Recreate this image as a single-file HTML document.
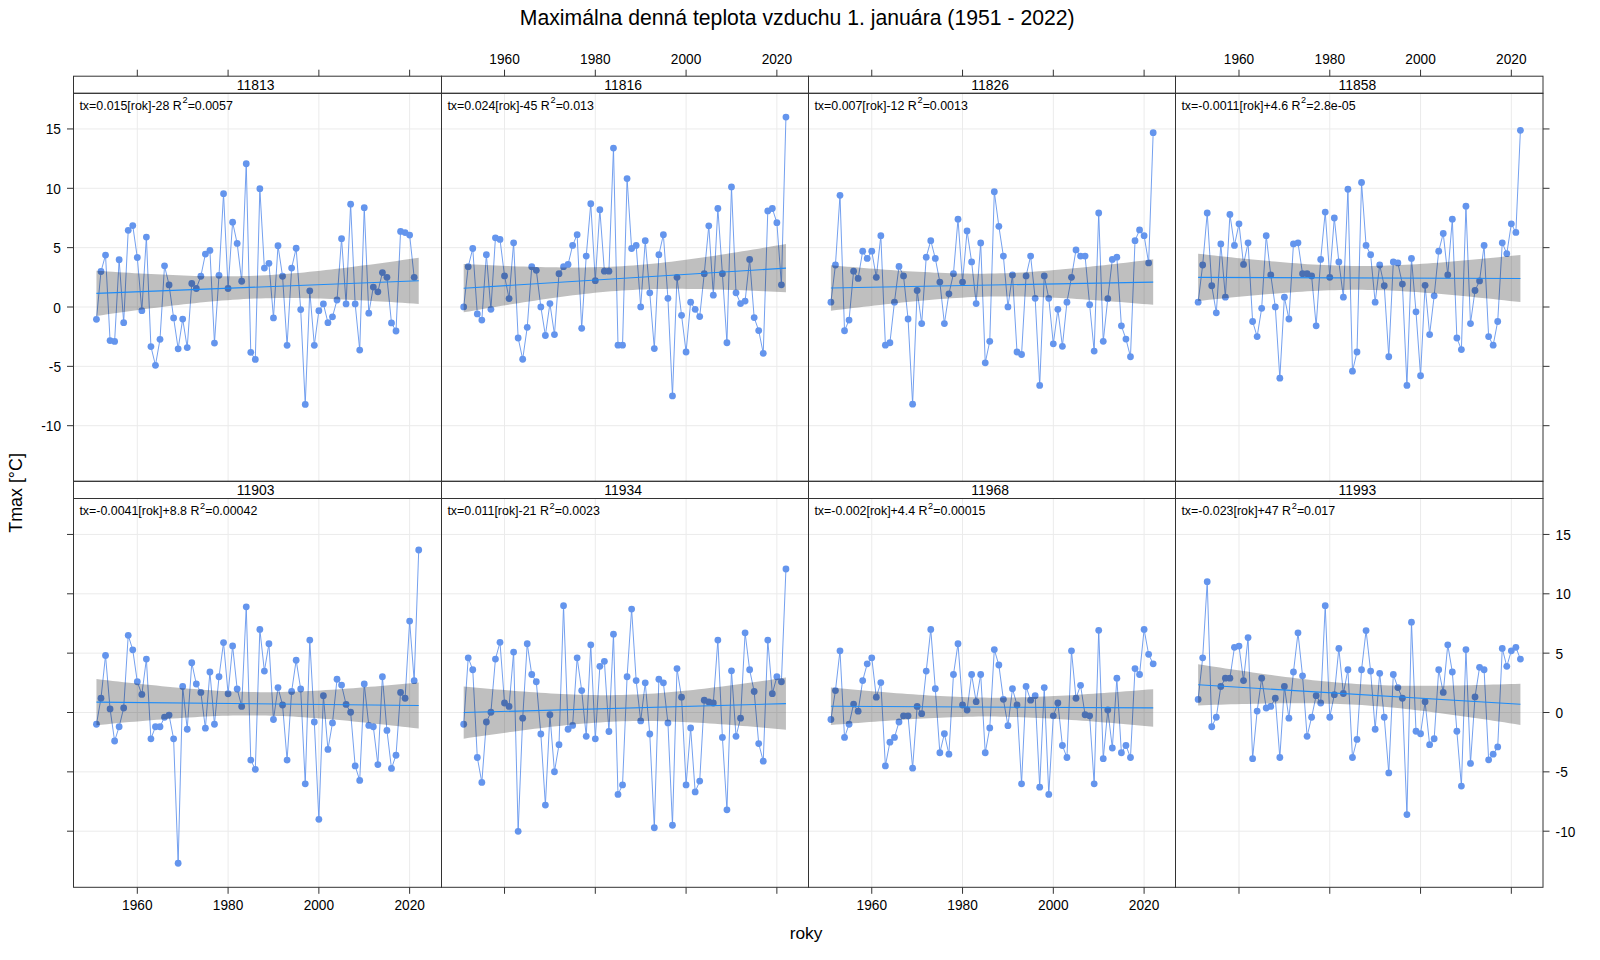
<!DOCTYPE html><html><head><meta charset="utf-8"><style>html,body{margin:0;padding:0;background:#fff;}svg{display:block}</style></head><body>
<svg width="1600" height="960" viewBox="0 0 1600 960" style="font-family:'Liberation Sans',sans-serif">
<rect width="1600" height="960" fill="#fff"/>
<text x="797.2" y="24.6" font-size="21.2" text-anchor="middle" fill="#000">Maximálna denná teplota vzduchu 1. januára (1951 - 2022)</text>
<text x="806" y="938.7" font-size="17.33" text-anchor="middle" fill="#000">roky</text>
<text transform="translate(21.9,492.9) rotate(-90)" font-size="17.85" text-anchor="middle" fill="#000">Tmax [°C]</text>
<clipPath id="cp0"><rect x="73.50" y="93.30" width="368.00" height="388.00"/></clipPath>
<g clip-path="url(#cp0)">
<line x1="137.30" y1="93.30" x2="137.30" y2="481.30" stroke="#ebebeb" stroke-width="1"/>
<line x1="228.08" y1="93.30" x2="228.08" y2="481.30" stroke="#ebebeb" stroke-width="1"/>
<line x1="318.86" y1="93.30" x2="318.86" y2="481.30" stroke="#ebebeb" stroke-width="1"/>
<line x1="409.64" y1="93.30" x2="409.64" y2="481.30" stroke="#ebebeb" stroke-width="1"/>
<line x1="73.50" y1="425.70" x2="441.50" y2="425.70" stroke="#ebebeb" stroke-width="1"/>
<line x1="73.50" y1="366.35" x2="441.50" y2="366.35" stroke="#ebebeb" stroke-width="1"/>
<line x1="73.50" y1="307.00" x2="441.50" y2="307.00" stroke="#ebebeb" stroke-width="1"/>
<line x1="73.50" y1="247.65" x2="441.50" y2="247.65" stroke="#ebebeb" stroke-width="1"/>
<line x1="73.50" y1="188.30" x2="441.50" y2="188.30" stroke="#ebebeb" stroke-width="1"/>
<line x1="73.50" y1="128.95" x2="441.50" y2="128.95" stroke="#ebebeb" stroke-width="1"/>
<polyline fill="none" stroke="#6495ed" stroke-width="0.9" points="96.45,319.34 100.99,271.51 105.53,255.07 110.07,340.59 114.61,341.42 119.14,259.76 123.68,322.67 128.22,230.32 132.76,225.57 137.30,257.50 141.84,310.68 146.38,237.09 150.92,346.53 155.46,365.28 160.00,339.29 164.53,265.81 169.07,284.92 173.61,317.92 178.15,348.78 182.69,319.11 187.23,347.60 191.77,283.50 196.31,288.48 200.85,276.26 205.38,254.06 209.92,250.38 214.46,343.08 219.00,275.31 223.54,193.64 228.08,288.48 232.62,222.13 237.16,243.38 241.70,281.24 246.24,163.73 250.78,352.34 255.31,359.47 259.85,188.66 264.39,268.07 268.93,263.32 273.47,317.92 278.01,245.75 282.55,276.26 287.09,345.34 291.63,268.07 296.16,248.24 300.70,309.61 305.24,404.45 309.78,290.86 314.32,345.34 318.86,310.68 323.40,303.91 327.94,322.67 332.48,316.85 337.02,300.00 341.56,238.63 346.09,303.91 350.63,204.21 355.17,303.91 359.71,350.09 364.25,207.65 368.79,313.17 373.33,287.06 377.87,291.81 382.41,272.58 386.94,277.32 391.48,322.91 396.02,330.98 400.56,231.39 405.10,232.58 409.64,235.07 414.18,277.32"/>
<g fill="#6495ed"><circle cx="96.45" cy="319.34" r="3.4"/><circle cx="100.99" cy="271.51" r="3.4"/><circle cx="105.53" cy="255.07" r="3.4"/><circle cx="110.07" cy="340.59" r="3.4"/><circle cx="114.61" cy="341.42" r="3.4"/><circle cx="119.14" cy="259.76" r="3.4"/><circle cx="123.68" cy="322.67" r="3.4"/><circle cx="128.22" cy="230.32" r="3.4"/><circle cx="132.76" cy="225.57" r="3.4"/><circle cx="137.30" cy="257.50" r="3.4"/><circle cx="141.84" cy="310.68" r="3.4"/><circle cx="146.38" cy="237.09" r="3.4"/><circle cx="150.92" cy="346.53" r="3.4"/><circle cx="155.46" cy="365.28" r="3.4"/><circle cx="160.00" cy="339.29" r="3.4"/><circle cx="164.53" cy="265.81" r="3.4"/><circle cx="169.07" cy="284.92" r="3.4"/><circle cx="173.61" cy="317.92" r="3.4"/><circle cx="178.15" cy="348.78" r="3.4"/><circle cx="182.69" cy="319.11" r="3.4"/><circle cx="187.23" cy="347.60" r="3.4"/><circle cx="191.77" cy="283.50" r="3.4"/><circle cx="196.31" cy="288.48" r="3.4"/><circle cx="200.85" cy="276.26" r="3.4"/><circle cx="205.38" cy="254.06" r="3.4"/><circle cx="209.92" cy="250.38" r="3.4"/><circle cx="214.46" cy="343.08" r="3.4"/><circle cx="219.00" cy="275.31" r="3.4"/><circle cx="223.54" cy="193.64" r="3.4"/><circle cx="228.08" cy="288.48" r="3.4"/><circle cx="232.62" cy="222.13" r="3.4"/><circle cx="237.16" cy="243.38" r="3.4"/><circle cx="241.70" cy="281.24" r="3.4"/><circle cx="246.24" cy="163.73" r="3.4"/><circle cx="250.78" cy="352.34" r="3.4"/><circle cx="255.31" cy="359.47" r="3.4"/><circle cx="259.85" cy="188.66" r="3.4"/><circle cx="264.39" cy="268.07" r="3.4"/><circle cx="268.93" cy="263.32" r="3.4"/><circle cx="273.47" cy="317.92" r="3.4"/><circle cx="278.01" cy="245.75" r="3.4"/><circle cx="282.55" cy="276.26" r="3.4"/><circle cx="287.09" cy="345.34" r="3.4"/><circle cx="291.63" cy="268.07" r="3.4"/><circle cx="296.16" cy="248.24" r="3.4"/><circle cx="300.70" cy="309.61" r="3.4"/><circle cx="305.24" cy="404.45" r="3.4"/><circle cx="309.78" cy="290.86" r="3.4"/><circle cx="314.32" cy="345.34" r="3.4"/><circle cx="318.86" cy="310.68" r="3.4"/><circle cx="323.40" cy="303.91" r="3.4"/><circle cx="327.94" cy="322.67" r="3.4"/><circle cx="332.48" cy="316.85" r="3.4"/><circle cx="337.02" cy="300.00" r="3.4"/><circle cx="341.56" cy="238.63" r="3.4"/><circle cx="346.09" cy="303.91" r="3.4"/><circle cx="350.63" cy="204.21" r="3.4"/><circle cx="355.17" cy="303.91" r="3.4"/><circle cx="359.71" cy="350.09" r="3.4"/><circle cx="364.25" cy="207.65" r="3.4"/><circle cx="368.79" cy="313.17" r="3.4"/><circle cx="373.33" cy="287.06" r="3.4"/><circle cx="377.87" cy="291.81" r="3.4"/><circle cx="382.41" cy="272.58" r="3.4"/><circle cx="386.94" cy="277.32" r="3.4"/><circle cx="391.48" cy="322.91" r="3.4"/><circle cx="396.02" cy="330.98" r="3.4"/><circle cx="400.56" cy="231.39" r="3.4"/><circle cx="405.10" cy="232.58" r="3.4"/><circle cx="409.64" cy="235.07" r="3.4"/><circle cx="414.18" cy="277.32" r="3.4"/></g>
<polygon fill="#000" fill-opacity="0.25" points="96.45,270.73 101.91,271.10 107.37,271.46 112.84,271.81 118.30,272.15 123.76,272.49 129.22,272.83 134.68,273.15 140.15,273.46 145.61,273.77 151.07,274.06 156.53,274.34 162.00,274.61 167.46,274.87 172.92,275.11 178.38,275.33 183.84,275.54 189.31,275.73 194.77,275.89 200.23,276.03 205.69,276.15 211.15,276.24 216.62,276.30 222.08,276.33 227.54,276.33 233.00,276.29 238.47,276.21 243.93,276.10 249.39,275.95 254.85,275.76 260.31,275.54 265.78,275.27 271.24,274.96 276.70,274.62 282.16,274.24 287.63,273.82 293.09,273.37 298.55,272.89 304.01,272.39 309.47,271.85 314.94,271.29 320.40,270.70 325.86,270.09 331.32,269.47 336.79,268.82 342.25,268.16 347.71,267.48 353.17,266.79 358.63,266.09 364.10,265.37 369.56,264.64 375.02,263.91 380.48,263.16 385.94,262.41 391.41,261.64 396.87,260.88 402.33,260.10 407.79,259.32 413.26,258.53 418.72,257.74 418.72,303.91 413.26,303.54 407.79,303.17 402.33,302.82 396.87,302.47 391.41,302.12 385.94,301.78 380.48,301.45 375.02,301.13 369.56,300.82 364.10,300.51 358.63,300.22 353.17,299.94 347.71,299.68 342.25,299.42 336.79,299.18 331.32,298.96 325.86,298.76 320.40,298.58 314.94,298.42 309.47,298.28 304.01,298.17 298.55,298.08 293.09,298.03 287.63,298.00 282.16,298.01 276.70,298.05 271.24,298.13 265.78,298.25 260.31,298.41 254.85,298.60 249.39,298.84 243.93,299.11 238.47,299.43 233.00,299.78 227.54,300.16 222.08,300.58 216.62,301.04 211.15,301.52 205.69,302.04 200.23,302.58 194.77,303.14 189.31,303.73 183.84,304.34 178.38,304.97 172.92,305.62 167.46,306.29 162.00,306.97 156.53,307.66 151.07,308.37 145.61,309.08 140.15,309.81 134.68,310.55 129.22,311.30 123.76,312.05 118.30,312.82 112.84,313.59 107.37,314.36 101.91,315.15 96.45,315.94"/>
<line x1="96.45" y1="293.33" x2="418.72" y2="280.82" stroke="#1e8cf8" stroke-width="1.1"/>
</g>
<text x="79.40" y="109.90" font-size="12.42" fill="#000">tx=0.015[rok]-28 R<tspan dx="0.6" dy="-6.5" font-size="9.2">2</tspan><tspan dx="0.1" dy="6.5">=0.0057</tspan></text>
<rect x="73.50" y="76.20" width="368.00" height="17.10" fill="none" stroke="#333" stroke-width="1"/>
<text x="255.60" y="90.10" font-size="13.9" text-anchor="middle" fill="#000">11813</text>
<rect x="73.50" y="93.30" width="368.00" height="388.00" fill="none" stroke="#333" stroke-width="1"/>
<clipPath id="cp1"><rect x="441.50" y="93.30" width="367.00" height="388.00"/></clipPath>
<g clip-path="url(#cp1)">
<line x1="504.53" y1="93.30" x2="504.53" y2="481.30" stroke="#ebebeb" stroke-width="1"/>
<line x1="595.31" y1="93.30" x2="595.31" y2="481.30" stroke="#ebebeb" stroke-width="1"/>
<line x1="686.09" y1="93.30" x2="686.09" y2="481.30" stroke="#ebebeb" stroke-width="1"/>
<line x1="776.87" y1="93.30" x2="776.87" y2="481.30" stroke="#ebebeb" stroke-width="1"/>
<line x1="441.50" y1="425.70" x2="808.50" y2="425.70" stroke="#ebebeb" stroke-width="1"/>
<line x1="441.50" y1="366.35" x2="808.50" y2="366.35" stroke="#ebebeb" stroke-width="1"/>
<line x1="441.50" y1="307.00" x2="808.50" y2="307.00" stroke="#ebebeb" stroke-width="1"/>
<line x1="441.50" y1="247.65" x2="808.50" y2="247.65" stroke="#ebebeb" stroke-width="1"/>
<line x1="441.50" y1="188.30" x2="808.50" y2="188.30" stroke="#ebebeb" stroke-width="1"/>
<line x1="441.50" y1="128.95" x2="808.50" y2="128.95" stroke="#ebebeb" stroke-width="1"/>
<polyline fill="none" stroke="#6495ed" stroke-width="0.9" points="463.68,306.88 468.22,266.64 472.76,248.48 477.30,313.88 481.84,320.06 486.37,254.65 490.91,309.37 495.45,237.80 499.99,239.46 504.53,275.90 509.07,298.57 513.61,242.78 518.15,337.98 522.69,359.23 527.23,327.30 531.76,266.64 536.30,270.32 540.84,306.88 545.38,335.49 549.92,303.56 554.46,334.54 559.00,273.65 563.54,266.64 568.08,264.39 572.62,245.39 577.15,234.71 581.69,328.37 586.23,256.08 590.77,203.73 595.31,280.65 599.85,209.67 604.39,271.15 608.93,271.15 613.47,148.06 618.00,345.22 622.54,345.22 627.08,178.57 631.62,248.48 636.16,245.39 640.70,306.88 645.24,240.65 649.78,292.87 654.32,348.55 658.86,254.65 663.39,234.71 667.93,298.33 672.47,395.91 677.01,277.32 681.55,315.31 686.09,351.99 690.63,302.13 695.17,309.37 699.71,316.61 704.25,273.65 708.79,225.81 713.32,295.13 717.86,208.48 722.40,273.65 726.94,342.73 731.48,186.88 736.02,292.87 740.56,303.56 745.10,301.06 749.64,259.40 754.17,317.56 758.71,330.62 763.25,353.29 767.79,210.97 772.33,208.48 776.87,222.72 781.41,284.80 785.95,117.08"/>
<g fill="#6495ed"><circle cx="463.68" cy="306.88" r="3.4"/><circle cx="468.22" cy="266.64" r="3.4"/><circle cx="472.76" cy="248.48" r="3.4"/><circle cx="477.30" cy="313.88" r="3.4"/><circle cx="481.84" cy="320.06" r="3.4"/><circle cx="486.37" cy="254.65" r="3.4"/><circle cx="490.91" cy="309.37" r="3.4"/><circle cx="495.45" cy="237.80" r="3.4"/><circle cx="499.99" cy="239.46" r="3.4"/><circle cx="504.53" cy="275.90" r="3.4"/><circle cx="509.07" cy="298.57" r="3.4"/><circle cx="513.61" cy="242.78" r="3.4"/><circle cx="518.15" cy="337.98" r="3.4"/><circle cx="522.69" cy="359.23" r="3.4"/><circle cx="527.23" cy="327.30" r="3.4"/><circle cx="531.76" cy="266.64" r="3.4"/><circle cx="536.30" cy="270.32" r="3.4"/><circle cx="540.84" cy="306.88" r="3.4"/><circle cx="545.38" cy="335.49" r="3.4"/><circle cx="549.92" cy="303.56" r="3.4"/><circle cx="554.46" cy="334.54" r="3.4"/><circle cx="559.00" cy="273.65" r="3.4"/><circle cx="563.54" cy="266.64" r="3.4"/><circle cx="568.08" cy="264.39" r="3.4"/><circle cx="572.62" cy="245.39" r="3.4"/><circle cx="577.15" cy="234.71" r="3.4"/><circle cx="581.69" cy="328.37" r="3.4"/><circle cx="586.23" cy="256.08" r="3.4"/><circle cx="590.77" cy="203.73" r="3.4"/><circle cx="595.31" cy="280.65" r="3.4"/><circle cx="599.85" cy="209.67" r="3.4"/><circle cx="604.39" cy="271.15" r="3.4"/><circle cx="608.93" cy="271.15" r="3.4"/><circle cx="613.47" cy="148.06" r="3.4"/><circle cx="618.00" cy="345.22" r="3.4"/><circle cx="622.54" cy="345.22" r="3.4"/><circle cx="627.08" cy="178.57" r="3.4"/><circle cx="631.62" cy="248.48" r="3.4"/><circle cx="636.16" cy="245.39" r="3.4"/><circle cx="640.70" cy="306.88" r="3.4"/><circle cx="645.24" cy="240.65" r="3.4"/><circle cx="649.78" cy="292.87" r="3.4"/><circle cx="654.32" cy="348.55" r="3.4"/><circle cx="658.86" cy="254.65" r="3.4"/><circle cx="663.39" cy="234.71" r="3.4"/><circle cx="667.93" cy="298.33" r="3.4"/><circle cx="672.47" cy="395.91" r="3.4"/><circle cx="677.01" cy="277.32" r="3.4"/><circle cx="681.55" cy="315.31" r="3.4"/><circle cx="686.09" cy="351.99" r="3.4"/><circle cx="690.63" cy="302.13" r="3.4"/><circle cx="695.17" cy="309.37" r="3.4"/><circle cx="699.71" cy="316.61" r="3.4"/><circle cx="704.25" cy="273.65" r="3.4"/><circle cx="708.79" cy="225.81" r="3.4"/><circle cx="713.32" cy="295.13" r="3.4"/><circle cx="717.86" cy="208.48" r="3.4"/><circle cx="722.40" cy="273.65" r="3.4"/><circle cx="726.94" cy="342.73" r="3.4"/><circle cx="731.48" cy="186.88" r="3.4"/><circle cx="736.02" cy="292.87" r="3.4"/><circle cx="740.56" cy="303.56" r="3.4"/><circle cx="745.10" cy="301.06" r="3.4"/><circle cx="749.64" cy="259.40" r="3.4"/><circle cx="754.17" cy="317.56" r="3.4"/><circle cx="758.71" cy="330.62" r="3.4"/><circle cx="763.25" cy="353.29" r="3.4"/><circle cx="767.79" cy="210.97" r="3.4"/><circle cx="772.33" cy="208.48" r="3.4"/><circle cx="776.87" cy="222.72" r="3.4"/><circle cx="781.41" cy="284.80" r="3.4"/><circle cx="785.95" cy="117.08" r="3.4"/></g>
<polygon fill="#000" fill-opacity="0.25" points="463.68,264.09 469.14,264.35 474.60,264.61 480.07,264.87 485.53,265.11 490.99,265.35 496.45,265.58 501.91,265.81 507.38,266.02 512.84,266.23 518.30,266.42 523.76,266.60 529.23,266.77 534.69,266.92 540.15,267.06 545.61,267.18 551.07,267.29 556.54,267.37 562.00,267.43 567.46,267.47 572.92,267.48 578.38,267.46 583.85,267.42 589.31,267.34 594.77,267.23 600.23,267.09 605.70,266.91 611.16,266.69 616.62,266.43 622.08,266.13 627.54,265.78 633.01,265.40 638.47,264.98 643.93,264.52 649.39,264.02 654.86,263.48 660.32,262.91 665.78,262.30 671.24,261.66 676.70,260.99 682.17,260.30 687.63,259.58 693.09,258.83 698.55,258.07 704.02,257.28 709.48,256.48 714.94,255.66 720.40,254.82 725.86,253.97 731.33,253.11 736.79,252.23 742.25,251.34 747.71,250.45 753.17,249.54 758.64,248.63 764.10,247.71 769.56,246.78 775.02,245.84 780.49,244.90 785.95,243.95 785.95,292.22 780.49,291.95 775.02,291.69 769.56,291.44 764.10,291.19 758.64,290.95 753.17,290.72 747.71,290.50 742.25,290.28 736.79,290.08 731.33,289.89 725.86,289.71 720.40,289.54 714.94,289.38 709.48,289.24 704.02,289.12 698.55,289.02 693.09,288.94 687.63,288.88 682.17,288.84 676.70,288.83 671.24,288.84 665.78,288.89 660.32,288.96 654.86,289.07 649.39,289.22 643.93,289.40 638.47,289.62 633.01,289.88 627.54,290.18 622.08,290.52 616.62,290.90 611.16,291.33 605.70,291.79 600.23,292.29 594.77,292.83 589.31,293.40 583.85,294.01 578.38,294.64 572.92,295.31 567.46,296.01 562.00,296.73 556.54,297.47 551.07,298.24 545.61,299.02 540.15,299.83 534.69,300.65 529.23,301.48 523.76,302.33 518.30,303.20 512.84,304.07 507.38,304.96 501.91,305.86 496.45,306.76 490.99,307.68 485.53,308.60 480.07,309.53 474.60,310.46 469.14,311.41 463.68,312.35"/>
<line x1="463.68" y1="288.22" x2="785.95" y2="268.08" stroke="#1e8cf8" stroke-width="1.1"/>
</g>
<text x="447.40" y="109.90" font-size="12.42" fill="#000">tx=0.024[rok]-45 R<tspan dx="0.6" dy="-6.5" font-size="9.2">2</tspan><tspan dx="0.1" dy="6.5">=0.013</tspan></text>
<rect x="441.50" y="76.20" width="367.00" height="17.10" fill="none" stroke="#333" stroke-width="1"/>
<text x="623.10" y="90.10" font-size="13.9" text-anchor="middle" fill="#000">11816</text>
<rect x="441.50" y="93.30" width="367.00" height="388.00" fill="none" stroke="#333" stroke-width="1"/>
<clipPath id="cp2"><rect x="808.50" y="93.30" width="367.00" height="388.00"/></clipPath>
<g clip-path="url(#cp2)">
<line x1="871.76" y1="93.30" x2="871.76" y2="481.30" stroke="#ebebeb" stroke-width="1"/>
<line x1="962.54" y1="93.30" x2="962.54" y2="481.30" stroke="#ebebeb" stroke-width="1"/>
<line x1="1053.32" y1="93.30" x2="1053.32" y2="481.30" stroke="#ebebeb" stroke-width="1"/>
<line x1="1144.10" y1="93.30" x2="1144.10" y2="481.30" stroke="#ebebeb" stroke-width="1"/>
<line x1="808.50" y1="425.70" x2="1175.50" y2="425.70" stroke="#ebebeb" stroke-width="1"/>
<line x1="808.50" y1="366.35" x2="1175.50" y2="366.35" stroke="#ebebeb" stroke-width="1"/>
<line x1="808.50" y1="307.00" x2="1175.50" y2="307.00" stroke="#ebebeb" stroke-width="1"/>
<line x1="808.50" y1="247.65" x2="1175.50" y2="247.65" stroke="#ebebeb" stroke-width="1"/>
<line x1="808.50" y1="188.30" x2="1175.50" y2="188.30" stroke="#ebebeb" stroke-width="1"/>
<line x1="808.50" y1="128.95" x2="1175.50" y2="128.95" stroke="#ebebeb" stroke-width="1"/>
<polyline fill="none" stroke="#6495ed" stroke-width="0.9" points="830.91,302.13 835.45,264.98 839.99,195.30 844.53,330.74 849.06,320.06 853.60,271.15 858.14,278.39 862.68,251.21 867.22,258.45 871.76,251.21 876.30,277.32 880.84,235.66 885.38,345.22 889.92,342.73 894.46,302.13 898.99,266.40 903.53,275.90 908.07,318.99 912.61,404.22 917.15,290.50 921.69,323.62 926.23,257.15 930.77,240.65 935.31,258.45 939.85,282.07 944.38,323.62 948.92,293.82 953.46,273.65 958.00,219.16 962.54,282.07 967.08,230.91 971.62,261.89 976.16,303.56 980.70,242.90 985.24,362.79 989.77,341.30 994.31,191.74 998.85,226.28 1003.39,256.08 1007.93,306.88 1012.47,274.95 1017.01,351.99 1021.55,354.48 1026.09,275.90 1030.62,256.08 1035.16,298.33 1039.70,385.46 1044.24,275.90 1048.78,298.33 1053.32,343.80 1057.86,309.37 1062.40,346.29 1066.94,302.13 1071.48,277.32 1076.01,249.91 1080.55,256.08 1085.09,256.08 1089.63,304.63 1094.17,351.04 1098.71,212.99 1103.25,341.30 1107.79,298.69 1112.33,259.40 1116.87,257.15 1121.40,325.87 1125.94,339.05 1130.48,356.74 1135.02,240.65 1139.56,229.96 1144.10,235.66 1148.64,262.96 1153.18,132.63"/>
<g fill="#6495ed"><circle cx="830.91" cy="302.13" r="3.4"/><circle cx="835.45" cy="264.98" r="3.4"/><circle cx="839.99" cy="195.30" r="3.4"/><circle cx="844.53" cy="330.74" r="3.4"/><circle cx="849.06" cy="320.06" r="3.4"/><circle cx="853.60" cy="271.15" r="3.4"/><circle cx="858.14" cy="278.39" r="3.4"/><circle cx="862.68" cy="251.21" r="3.4"/><circle cx="867.22" cy="258.45" r="3.4"/><circle cx="871.76" cy="251.21" r="3.4"/><circle cx="876.30" cy="277.32" r="3.4"/><circle cx="880.84" cy="235.66" r="3.4"/><circle cx="885.38" cy="345.22" r="3.4"/><circle cx="889.92" cy="342.73" r="3.4"/><circle cx="894.46" cy="302.13" r="3.4"/><circle cx="898.99" cy="266.40" r="3.4"/><circle cx="903.53" cy="275.90" r="3.4"/><circle cx="908.07" cy="318.99" r="3.4"/><circle cx="912.61" cy="404.22" r="3.4"/><circle cx="917.15" cy="290.50" r="3.4"/><circle cx="921.69" cy="323.62" r="3.4"/><circle cx="926.23" cy="257.15" r="3.4"/><circle cx="930.77" cy="240.65" r="3.4"/><circle cx="935.31" cy="258.45" r="3.4"/><circle cx="939.85" cy="282.07" r="3.4"/><circle cx="944.38" cy="323.62" r="3.4"/><circle cx="948.92" cy="293.82" r="3.4"/><circle cx="953.46" cy="273.65" r="3.4"/><circle cx="958.00" cy="219.16" r="3.4"/><circle cx="962.54" cy="282.07" r="3.4"/><circle cx="967.08" cy="230.91" r="3.4"/><circle cx="971.62" cy="261.89" r="3.4"/><circle cx="976.16" cy="303.56" r="3.4"/><circle cx="980.70" cy="242.90" r="3.4"/><circle cx="985.24" cy="362.79" r="3.4"/><circle cx="989.77" cy="341.30" r="3.4"/><circle cx="994.31" cy="191.74" r="3.4"/><circle cx="998.85" cy="226.28" r="3.4"/><circle cx="1003.39" cy="256.08" r="3.4"/><circle cx="1007.93" cy="306.88" r="3.4"/><circle cx="1012.47" cy="274.95" r="3.4"/><circle cx="1017.01" cy="351.99" r="3.4"/><circle cx="1021.55" cy="354.48" r="3.4"/><circle cx="1026.09" cy="275.90" r="3.4"/><circle cx="1030.62" cy="256.08" r="3.4"/><circle cx="1035.16" cy="298.33" r="3.4"/><circle cx="1039.70" cy="385.46" r="3.4"/><circle cx="1044.24" cy="275.90" r="3.4"/><circle cx="1048.78" cy="298.33" r="3.4"/><circle cx="1053.32" cy="343.80" r="3.4"/><circle cx="1057.86" cy="309.37" r="3.4"/><circle cx="1062.40" cy="346.29" r="3.4"/><circle cx="1066.94" cy="302.13" r="3.4"/><circle cx="1071.48" cy="277.32" r="3.4"/><circle cx="1076.01" cy="249.91" r="3.4"/><circle cx="1080.55" cy="256.08" r="3.4"/><circle cx="1085.09" cy="256.08" r="3.4"/><circle cx="1089.63" cy="304.63" r="3.4"/><circle cx="1094.17" cy="351.04" r="3.4"/><circle cx="1098.71" cy="212.99" r="3.4"/><circle cx="1103.25" cy="341.30" r="3.4"/><circle cx="1107.79" cy="298.69" r="3.4"/><circle cx="1112.33" cy="259.40" r="3.4"/><circle cx="1116.87" cy="257.15" r="3.4"/><circle cx="1121.40" cy="325.87" r="3.4"/><circle cx="1125.94" cy="339.05" r="3.4"/><circle cx="1130.48" cy="356.74" r="3.4"/><circle cx="1135.02" cy="240.65" r="3.4"/><circle cx="1139.56" cy="229.96" r="3.4"/><circle cx="1144.10" cy="235.66" r="3.4"/><circle cx="1148.64" cy="262.96" r="3.4"/><circle cx="1153.18" cy="132.63" r="3.4"/></g>
<polygon fill="#000" fill-opacity="0.25" points="830.91,265.23 836.37,265.70 841.83,266.17 847.30,266.63 852.76,267.09 858.22,267.53 863.68,267.97 869.14,268.41 874.61,268.83 880.07,269.24 885.53,269.65 890.99,270.04 896.46,270.42 901.92,270.79 907.38,271.14 912.84,271.47 918.30,271.79 923.77,272.09 929.23,272.37 934.69,272.63 940.15,272.86 945.61,273.07 951.08,273.25 956.54,273.40 962.00,273.52 967.46,273.61 972.93,273.66 978.39,273.67 983.85,273.65 989.31,273.58 994.77,273.48 1000.24,273.35 1005.70,273.17 1011.16,272.96 1016.62,272.71 1022.09,272.42 1027.55,272.10 1033.01,271.75 1038.47,271.37 1043.93,270.96 1049.40,270.53 1054.86,270.07 1060.32,269.59 1065.78,269.09 1071.25,268.57 1076.71,268.04 1082.17,267.49 1087.63,266.92 1093.09,266.34 1098.56,265.75 1104.02,265.14 1109.48,264.53 1114.94,263.91 1120.40,263.27 1125.87,262.63 1131.33,261.99 1136.79,261.33 1142.25,260.67 1147.72,260.00 1153.18,259.33 1153.18,304.84 1147.72,304.36 1142.25,303.90 1136.79,303.44 1131.33,302.98 1125.87,302.53 1120.40,302.09 1114.94,301.66 1109.48,301.24 1104.02,300.82 1098.56,300.42 1093.09,300.03 1087.63,299.65 1082.17,299.28 1076.71,298.93 1071.25,298.59 1065.78,298.27 1060.32,297.97 1054.86,297.69 1049.40,297.44 1043.93,297.20 1038.47,297.00 1033.01,296.82 1027.55,296.67 1022.09,296.55 1016.62,296.46 1011.16,296.41 1005.70,296.40 1000.24,296.42 994.77,296.48 989.31,296.58 983.85,296.72 978.39,296.90 972.93,297.11 967.46,297.36 962.00,297.65 956.54,297.97 951.08,298.32 945.61,298.70 940.15,299.10 934.69,299.54 929.23,299.99 923.77,300.47 918.30,300.97 912.84,301.49 907.38,302.03 901.92,302.58 896.46,303.15 890.99,303.73 885.53,304.32 880.07,304.92 874.61,305.54 869.14,306.16 863.68,306.79 858.22,307.43 852.76,308.08 847.30,308.74 841.83,309.40 836.37,310.06 830.91,310.74"/>
<line x1="830.91" y1="287.98" x2="1153.18" y2="282.08" stroke="#1e8cf8" stroke-width="1.1"/>
</g>
<text x="814.40" y="109.90" font-size="12.42" fill="#000">tx=0.007[rok]-12 R<tspan dx="0.6" dy="-6.5" font-size="9.2">2</tspan><tspan dx="0.1" dy="6.5">=0.0013</tspan></text>
<rect x="808.50" y="76.20" width="367.00" height="17.10" fill="none" stroke="#333" stroke-width="1"/>
<text x="990.10" y="90.10" font-size="13.9" text-anchor="middle" fill="#000">11826</text>
<rect x="808.50" y="93.30" width="367.00" height="388.00" fill="none" stroke="#333" stroke-width="1"/>
<clipPath id="cp3"><rect x="1175.50" y="93.30" width="367.50" height="388.00"/></clipPath>
<g clip-path="url(#cp3)">
<line x1="1238.99" y1="93.30" x2="1238.99" y2="481.30" stroke="#ebebeb" stroke-width="1"/>
<line x1="1329.77" y1="93.30" x2="1329.77" y2="481.30" stroke="#ebebeb" stroke-width="1"/>
<line x1="1420.55" y1="93.30" x2="1420.55" y2="481.30" stroke="#ebebeb" stroke-width="1"/>
<line x1="1511.33" y1="93.30" x2="1511.33" y2="481.30" stroke="#ebebeb" stroke-width="1"/>
<line x1="1175.50" y1="425.70" x2="1543.00" y2="425.70" stroke="#ebebeb" stroke-width="1"/>
<line x1="1175.50" y1="366.35" x2="1543.00" y2="366.35" stroke="#ebebeb" stroke-width="1"/>
<line x1="1175.50" y1="307.00" x2="1543.00" y2="307.00" stroke="#ebebeb" stroke-width="1"/>
<line x1="1175.50" y1="247.65" x2="1543.00" y2="247.65" stroke="#ebebeb" stroke-width="1"/>
<line x1="1175.50" y1="188.30" x2="1543.00" y2="188.30" stroke="#ebebeb" stroke-width="1"/>
<line x1="1175.50" y1="128.95" x2="1543.00" y2="128.95" stroke="#ebebeb" stroke-width="1"/>
<polyline fill="none" stroke="#6495ed" stroke-width="0.9" points="1198.14,302.13 1202.68,264.98 1207.22,212.99 1211.76,285.75 1216.30,312.82 1220.83,243.97 1225.37,297.15 1229.91,214.41 1234.45,245.39 1238.99,223.79 1243.53,264.39 1248.07,242.78 1252.61,321.48 1257.15,336.56 1261.68,308.31 1266.22,235.66 1270.76,274.95 1275.30,306.88 1279.84,378.22 1284.38,297.15 1288.92,318.99 1293.46,243.97 1298.00,242.78 1302.54,273.65 1307.08,273.65 1311.61,275.90 1316.15,325.87 1320.69,259.40 1325.23,212.04 1329.77,277.32 1334.31,217.98 1338.85,261.89 1343.39,297.15 1347.93,189.25 1352.46,371.22 1357.00,351.99 1361.54,182.48 1366.08,245.39 1370.62,254.65 1375.16,302.13 1379.70,264.98 1384.24,285.75 1388.78,356.74 1393.32,261.89 1397.86,262.96 1402.39,284.09 1406.93,385.46 1411.47,258.45 1416.01,311.87 1420.55,375.73 1425.09,285.28 1429.63,334.54 1434.17,295.84 1438.71,251.21 1443.24,233.41 1447.78,274.95 1452.32,219.16 1456.86,337.98 1461.40,349.61 1465.94,206.22 1470.48,323.62 1475.02,290.50 1479.56,280.89 1484.10,245.39 1488.63,336.56 1493.17,345.22 1497.71,321.48 1502.25,242.78 1506.79,253.70 1511.33,223.79 1515.87,232.46 1520.41,130.37"/>
<g fill="#6495ed"><circle cx="1198.14" cy="302.13" r="3.4"/><circle cx="1202.68" cy="264.98" r="3.4"/><circle cx="1207.22" cy="212.99" r="3.4"/><circle cx="1211.76" cy="285.75" r="3.4"/><circle cx="1216.30" cy="312.82" r="3.4"/><circle cx="1220.83" cy="243.97" r="3.4"/><circle cx="1225.37" cy="297.15" r="3.4"/><circle cx="1229.91" cy="214.41" r="3.4"/><circle cx="1234.45" cy="245.39" r="3.4"/><circle cx="1238.99" cy="223.79" r="3.4"/><circle cx="1243.53" cy="264.39" r="3.4"/><circle cx="1248.07" cy="242.78" r="3.4"/><circle cx="1252.61" cy="321.48" r="3.4"/><circle cx="1257.15" cy="336.56" r="3.4"/><circle cx="1261.68" cy="308.31" r="3.4"/><circle cx="1266.22" cy="235.66" r="3.4"/><circle cx="1270.76" cy="274.95" r="3.4"/><circle cx="1275.30" cy="306.88" r="3.4"/><circle cx="1279.84" cy="378.22" r="3.4"/><circle cx="1284.38" cy="297.15" r="3.4"/><circle cx="1288.92" cy="318.99" r="3.4"/><circle cx="1293.46" cy="243.97" r="3.4"/><circle cx="1298.00" cy="242.78" r="3.4"/><circle cx="1302.54" cy="273.65" r="3.4"/><circle cx="1307.08" cy="273.65" r="3.4"/><circle cx="1311.61" cy="275.90" r="3.4"/><circle cx="1316.15" cy="325.87" r="3.4"/><circle cx="1320.69" cy="259.40" r="3.4"/><circle cx="1325.23" cy="212.04" r="3.4"/><circle cx="1329.77" cy="277.32" r="3.4"/><circle cx="1334.31" cy="217.98" r="3.4"/><circle cx="1338.85" cy="261.89" r="3.4"/><circle cx="1343.39" cy="297.15" r="3.4"/><circle cx="1347.93" cy="189.25" r="3.4"/><circle cx="1352.46" cy="371.22" r="3.4"/><circle cx="1357.00" cy="351.99" r="3.4"/><circle cx="1361.54" cy="182.48" r="3.4"/><circle cx="1366.08" cy="245.39" r="3.4"/><circle cx="1370.62" cy="254.65" r="3.4"/><circle cx="1375.16" cy="302.13" r="3.4"/><circle cx="1379.70" cy="264.98" r="3.4"/><circle cx="1384.24" cy="285.75" r="3.4"/><circle cx="1388.78" cy="356.74" r="3.4"/><circle cx="1393.32" cy="261.89" r="3.4"/><circle cx="1397.86" cy="262.96" r="3.4"/><circle cx="1402.39" cy="284.09" r="3.4"/><circle cx="1406.93" cy="385.46" r="3.4"/><circle cx="1411.47" cy="258.45" r="3.4"/><circle cx="1416.01" cy="311.87" r="3.4"/><circle cx="1420.55" cy="375.73" r="3.4"/><circle cx="1425.09" cy="285.28" r="3.4"/><circle cx="1429.63" cy="334.54" r="3.4"/><circle cx="1434.17" cy="295.84" r="3.4"/><circle cx="1438.71" cy="251.21" r="3.4"/><circle cx="1443.24" cy="233.41" r="3.4"/><circle cx="1447.78" cy="274.95" r="3.4"/><circle cx="1452.32" cy="219.16" r="3.4"/><circle cx="1456.86" cy="337.98" r="3.4"/><circle cx="1461.40" cy="349.61" r="3.4"/><circle cx="1465.94" cy="206.22" r="3.4"/><circle cx="1470.48" cy="323.62" r="3.4"/><circle cx="1475.02" cy="290.50" r="3.4"/><circle cx="1479.56" cy="280.89" r="3.4"/><circle cx="1484.10" cy="245.39" r="3.4"/><circle cx="1488.63" cy="336.56" r="3.4"/><circle cx="1493.17" cy="345.22" r="3.4"/><circle cx="1497.71" cy="321.48" r="3.4"/><circle cx="1502.25" cy="242.78" r="3.4"/><circle cx="1506.79" cy="253.70" r="3.4"/><circle cx="1511.33" cy="223.79" r="3.4"/><circle cx="1515.87" cy="232.46" r="3.4"/><circle cx="1520.41" cy="130.37" r="3.4"/></g>
<polygon fill="#000" fill-opacity="0.25" points="1198.14,253.74 1203.60,254.35 1209.06,254.96 1214.53,255.56 1219.99,256.16 1225.45,256.74 1230.91,257.32 1236.37,257.90 1241.84,258.46 1247.30,259.01 1252.76,259.55 1258.22,260.08 1263.69,260.60 1269.15,261.11 1274.61,261.59 1280.07,262.07 1285.53,262.52 1291.00,262.96 1296.46,263.37 1301.92,263.76 1307.38,264.13 1312.84,264.46 1318.31,264.77 1323.77,265.05 1329.23,265.30 1334.69,265.51 1340.16,265.69 1345.62,265.82 1351.08,265.92 1356.54,265.98 1362.00,266.00 1367.47,265.98 1372.93,265.92 1378.39,265.82 1383.85,265.69 1389.32,265.51 1394.78,265.31 1400.24,265.07 1405.70,264.80 1411.16,264.50 1416.63,264.17 1422.09,263.82 1427.55,263.44 1433.01,263.05 1438.48,262.63 1443.94,262.20 1449.40,261.75 1454.86,261.29 1460.32,260.81 1465.79,260.32 1471.25,259.81 1476.71,259.30 1482.17,258.77 1487.63,258.24 1493.10,257.70 1498.56,257.15 1504.02,256.60 1509.48,256.03 1514.95,255.47 1520.41,254.89 1520.41,302.10 1514.95,301.49 1509.48,300.88 1504.02,300.28 1498.56,299.69 1493.10,299.10 1487.63,298.52 1482.17,297.95 1476.71,297.38 1471.25,296.83 1465.79,296.29 1460.32,295.76 1454.86,295.24 1449.40,294.74 1443.94,294.25 1438.48,293.78 1433.01,293.32 1427.55,292.89 1422.09,292.47 1416.63,292.08 1411.16,291.72 1405.70,291.38 1400.24,291.07 1394.78,290.79 1389.32,290.55 1383.85,290.33 1378.39,290.16 1372.93,290.02 1367.47,289.92 1362.00,289.86 1356.54,289.84 1351.08,289.86 1345.62,289.92 1340.16,290.02 1334.69,290.16 1329.23,290.33 1323.77,290.54 1318.31,290.78 1312.84,291.05 1307.38,291.35 1301.92,291.67 1296.46,292.02 1291.00,292.40 1285.53,292.80 1280.07,293.21 1274.61,293.64 1269.15,294.09 1263.69,294.56 1258.22,295.04 1252.76,295.53 1247.30,296.03 1241.84,296.55 1236.37,297.07 1230.91,297.60 1225.45,298.14 1219.99,298.69 1214.53,299.25 1209.06,299.81 1203.60,300.38 1198.14,300.95"/>
<line x1="1198.14" y1="277.35" x2="1520.41" y2="278.50" stroke="#1e8cf8" stroke-width="1.1"/>
</g>
<text x="1181.40" y="109.90" font-size="12.42" fill="#000">tx=-0.0011[rok]+4.6 R<tspan dx="0.6" dy="-6.5" font-size="9.2">2</tspan><tspan dx="0.1" dy="6.5">=2.8e-05</tspan></text>
<rect x="1175.50" y="76.20" width="367.50" height="17.10" fill="none" stroke="#333" stroke-width="1"/>
<text x="1357.35" y="90.10" font-size="13.9" text-anchor="middle" fill="#000">11858</text>
<rect x="1175.50" y="93.30" width="367.50" height="388.00" fill="none" stroke="#333" stroke-width="1"/>
<clipPath id="cp4"><rect x="73.50" y="498.50" width="368.00" height="388.80"/></clipPath>
<g clip-path="url(#cp4)">
<line x1="137.30" y1="498.50" x2="137.30" y2="887.30" stroke="#ebebeb" stroke-width="1"/>
<line x1="228.08" y1="498.50" x2="228.08" y2="887.30" stroke="#ebebeb" stroke-width="1"/>
<line x1="318.86" y1="498.50" x2="318.86" y2="887.30" stroke="#ebebeb" stroke-width="1"/>
<line x1="409.64" y1="498.50" x2="409.64" y2="887.30" stroke="#ebebeb" stroke-width="1"/>
<line x1="73.50" y1="831.20" x2="441.50" y2="831.20" stroke="#ebebeb" stroke-width="1"/>
<line x1="73.50" y1="771.85" x2="441.50" y2="771.85" stroke="#ebebeb" stroke-width="1"/>
<line x1="73.50" y1="712.50" x2="441.50" y2="712.50" stroke="#ebebeb" stroke-width="1"/>
<line x1="73.50" y1="653.15" x2="441.50" y2="653.15" stroke="#ebebeb" stroke-width="1"/>
<line x1="73.50" y1="593.80" x2="441.50" y2="593.80" stroke="#ebebeb" stroke-width="1"/>
<line x1="73.50" y1="534.45" x2="441.50" y2="534.45" stroke="#ebebeb" stroke-width="1"/>
<polyline fill="none" stroke="#6495ed" stroke-width="0.9" points="96.45,724.25 100.99,698.26 105.53,655.52 110.07,708.94 114.61,740.99 119.14,726.74 123.68,707.99 128.22,635.35 132.76,649.83 137.30,681.76 141.84,694.46 146.38,659.09 150.92,738.85 155.46,726.74 160.00,726.74 164.53,717.25 169.07,715.11 173.61,738.85 178.15,863.25 182.69,686.50 187.23,729.24 191.77,662.76 196.31,684.01 200.85,692.44 205.38,728.17 209.92,672.02 214.46,724.25 219.00,676.77 223.54,642.59 228.08,693.75 232.62,645.91 237.16,689.00 241.70,706.45 246.24,606.86 250.78,760.10 255.31,769.36 259.85,629.41 264.39,671.07 268.93,643.77 273.47,719.50 278.01,687.57 282.55,705.02 287.09,760.10 291.63,691.49 296.16,660.27 300.70,689.00 305.24,783.84 309.78,640.09 314.32,722.00 318.86,819.33 323.40,695.76 327.94,749.42 332.48,722.95 337.02,679.26 341.56,685.08 346.09,704.43 350.63,712.26 355.17,765.91 359.71,780.40 364.25,684.01 368.79,725.44 373.33,726.74 377.87,764.61 382.41,676.77 386.94,730.42 391.48,768.41 396.02,755.23 400.56,692.44 405.10,698.26 409.64,621.10 414.18,680.69 418.72,550.00"/>
<g fill="#6495ed"><circle cx="96.45" cy="724.25" r="3.4"/><circle cx="100.99" cy="698.26" r="3.4"/><circle cx="105.53" cy="655.52" r="3.4"/><circle cx="110.07" cy="708.94" r="3.4"/><circle cx="114.61" cy="740.99" r="3.4"/><circle cx="119.14" cy="726.74" r="3.4"/><circle cx="123.68" cy="707.99" r="3.4"/><circle cx="128.22" cy="635.35" r="3.4"/><circle cx="132.76" cy="649.83" r="3.4"/><circle cx="137.30" cy="681.76" r="3.4"/><circle cx="141.84" cy="694.46" r="3.4"/><circle cx="146.38" cy="659.09" r="3.4"/><circle cx="150.92" cy="738.85" r="3.4"/><circle cx="155.46" cy="726.74" r="3.4"/><circle cx="160.00" cy="726.74" r="3.4"/><circle cx="164.53" cy="717.25" r="3.4"/><circle cx="169.07" cy="715.11" r="3.4"/><circle cx="173.61" cy="738.85" r="3.4"/><circle cx="178.15" cy="863.25" r="3.4"/><circle cx="182.69" cy="686.50" r="3.4"/><circle cx="187.23" cy="729.24" r="3.4"/><circle cx="191.77" cy="662.76" r="3.4"/><circle cx="196.31" cy="684.01" r="3.4"/><circle cx="200.85" cy="692.44" r="3.4"/><circle cx="205.38" cy="728.17" r="3.4"/><circle cx="209.92" cy="672.02" r="3.4"/><circle cx="214.46" cy="724.25" r="3.4"/><circle cx="219.00" cy="676.77" r="3.4"/><circle cx="223.54" cy="642.59" r="3.4"/><circle cx="228.08" cy="693.75" r="3.4"/><circle cx="232.62" cy="645.91" r="3.4"/><circle cx="237.16" cy="689.00" r="3.4"/><circle cx="241.70" cy="706.45" r="3.4"/><circle cx="246.24" cy="606.86" r="3.4"/><circle cx="250.78" cy="760.10" r="3.4"/><circle cx="255.31" cy="769.36" r="3.4"/><circle cx="259.85" cy="629.41" r="3.4"/><circle cx="264.39" cy="671.07" r="3.4"/><circle cx="268.93" cy="643.77" r="3.4"/><circle cx="273.47" cy="719.50" r="3.4"/><circle cx="278.01" cy="687.57" r="3.4"/><circle cx="282.55" cy="705.02" r="3.4"/><circle cx="287.09" cy="760.10" r="3.4"/><circle cx="291.63" cy="691.49" r="3.4"/><circle cx="296.16" cy="660.27" r="3.4"/><circle cx="300.70" cy="689.00" r="3.4"/><circle cx="305.24" cy="783.84" r="3.4"/><circle cx="309.78" cy="640.09" r="3.4"/><circle cx="314.32" cy="722.00" r="3.4"/><circle cx="318.86" cy="819.33" r="3.4"/><circle cx="323.40" cy="695.76" r="3.4"/><circle cx="327.94" cy="749.42" r="3.4"/><circle cx="332.48" cy="722.95" r="3.4"/><circle cx="337.02" cy="679.26" r="3.4"/><circle cx="341.56" cy="685.08" r="3.4"/><circle cx="346.09" cy="704.43" r="3.4"/><circle cx="350.63" cy="712.26" r="3.4"/><circle cx="355.17" cy="765.91" r="3.4"/><circle cx="359.71" cy="780.40" r="3.4"/><circle cx="364.25" cy="684.01" r="3.4"/><circle cx="368.79" cy="725.44" r="3.4"/><circle cx="373.33" cy="726.74" r="3.4"/><circle cx="377.87" cy="764.61" r="3.4"/><circle cx="382.41" cy="676.77" r="3.4"/><circle cx="386.94" cy="730.42" r="3.4"/><circle cx="391.48" cy="768.41" r="3.4"/><circle cx="396.02" cy="755.23" r="3.4"/><circle cx="400.56" cy="692.44" r="3.4"/><circle cx="405.10" cy="698.26" r="3.4"/><circle cx="409.64" cy="621.10" r="3.4"/><circle cx="414.18" cy="680.69" r="3.4"/><circle cx="418.72" cy="550.00" r="3.4"/></g>
<polygon fill="#000" fill-opacity="0.25" points="96.45,679.00 101.91,679.64 107.37,680.27 112.84,680.89 118.30,681.51 123.76,682.13 129.22,682.73 134.68,683.33 140.15,683.92 145.61,684.50 151.07,685.07 156.53,685.62 162.00,686.17 167.46,686.70 172.92,687.22 178.38,687.72 183.84,688.20 189.31,688.66 194.77,689.11 200.23,689.53 205.69,689.92 211.15,690.29 216.62,690.63 222.08,690.94 227.54,691.22 233.00,691.47 238.47,691.68 243.93,691.85 249.39,691.99 254.85,692.08 260.31,692.14 265.78,692.16 271.24,692.14 276.70,692.08 282.16,691.99 287.63,691.86 293.09,691.69 298.55,691.50 304.01,691.27 309.47,691.02 314.94,690.73 320.40,690.43 325.86,690.10 331.32,689.75 336.79,689.39 342.25,689.00 347.71,688.60 353.17,688.18 358.63,687.75 364.10,687.31 369.56,686.86 375.02,686.39 380.48,685.92 385.94,685.44 391.41,684.95 396.87,684.45 402.33,683.94 407.79,683.43 413.26,682.91 418.72,682.39 418.72,728.56 413.26,727.93 407.79,727.29 402.33,726.67 396.87,726.05 391.41,725.43 385.94,724.83 380.48,724.23 375.02,723.64 369.56,723.06 364.10,722.49 358.63,721.94 353.17,721.39 347.71,720.86 342.25,720.34 336.79,719.84 331.32,719.36 325.86,718.90 320.40,718.45 314.94,718.03 309.47,717.64 304.01,717.27 298.55,716.93 293.09,716.62 287.63,716.34 282.16,716.09 276.70,715.88 271.24,715.71 265.78,715.57 260.31,715.48 254.85,715.42 249.39,715.40 243.93,715.42 238.47,715.48 233.00,715.57 227.54,715.70 222.08,715.87 216.62,716.06 211.15,716.29 205.69,716.55 200.23,716.83 194.77,717.13 189.31,717.46 183.84,717.81 178.38,718.18 172.92,718.56 167.46,718.96 162.00,719.38 156.53,719.81 151.07,720.25 145.61,720.70 140.15,721.17 134.68,721.64 129.22,722.12 123.76,722.61 118.30,723.11 112.84,723.62 107.37,724.13 101.91,724.65 96.45,725.17"/>
<line x1="96.45" y1="702.08" x2="418.72" y2="705.48" stroke="#1e8cf8" stroke-width="1.1"/>
</g>
<text x="79.40" y="515.10" font-size="12.42" fill="#000">tx=-0.0041[rok]+8.8 R<tspan dx="0.6" dy="-6.5" font-size="9.2">2</tspan><tspan dx="0.1" dy="6.5">=0.00042</tspan></text>
<rect x="73.50" y="481.30" width="368.00" height="17.20" fill="none" stroke="#333" stroke-width="1"/>
<text x="255.60" y="495.25" font-size="13.9" text-anchor="middle" fill="#000">11903</text>
<rect x="73.50" y="498.50" width="368.00" height="388.80" fill="none" stroke="#333" stroke-width="1"/>
<clipPath id="cp5"><rect x="441.50" y="498.50" width="367.00" height="388.80"/></clipPath>
<g clip-path="url(#cp5)">
<line x1="504.53" y1="498.50" x2="504.53" y2="887.30" stroke="#ebebeb" stroke-width="1"/>
<line x1="595.31" y1="498.50" x2="595.31" y2="887.30" stroke="#ebebeb" stroke-width="1"/>
<line x1="686.09" y1="498.50" x2="686.09" y2="887.30" stroke="#ebebeb" stroke-width="1"/>
<line x1="776.87" y1="498.50" x2="776.87" y2="887.30" stroke="#ebebeb" stroke-width="1"/>
<line x1="441.50" y1="831.20" x2="808.50" y2="831.20" stroke="#ebebeb" stroke-width="1"/>
<line x1="441.50" y1="771.85" x2="808.50" y2="771.85" stroke="#ebebeb" stroke-width="1"/>
<line x1="441.50" y1="712.50" x2="808.50" y2="712.50" stroke="#ebebeb" stroke-width="1"/>
<line x1="441.50" y1="653.15" x2="808.50" y2="653.15" stroke="#ebebeb" stroke-width="1"/>
<line x1="441.50" y1="593.80" x2="808.50" y2="593.80" stroke="#ebebeb" stroke-width="1"/>
<line x1="441.50" y1="534.45" x2="808.50" y2="534.45" stroke="#ebebeb" stroke-width="1"/>
<polyline fill="none" stroke="#6495ed" stroke-width="0.9" points="463.68,724.25 468.22,657.78 472.76,669.77 477.30,757.49 481.84,782.41 486.37,722.00 490.91,712.26 495.45,659.09 499.99,642.35 504.53,703.00 509.07,706.45 513.61,652.08 518.15,831.32 522.69,718.20 527.23,643.77 531.76,674.52 536.30,681.76 540.84,733.98 545.38,805.09 549.92,714.76 554.46,771.73 559.00,744.67 563.54,605.67 568.08,729.24 572.62,725.44 577.15,657.78 581.69,690.54 586.23,736.36 590.77,644.84 595.31,738.85 599.85,666.33 604.39,661.34 608.93,731.49 613.47,634.16 618.00,794.40 622.54,784.91 627.08,676.77 631.62,609.11 636.16,680.57 640.70,720.93 645.24,682.83 649.78,733.98 654.32,827.76 658.86,679.26 663.39,682.83 667.93,722.95 672.47,825.26 677.01,668.58 681.55,697.19 686.09,784.91 690.63,727.93 695.17,791.91 699.71,781.11 704.25,700.27 708.79,701.94 713.32,703.00 717.86,640.09 722.40,737.43 726.94,809.83 731.48,670.84 736.02,736.36 740.56,718.20 745.10,632.85 749.64,669.77 754.17,691.49 758.71,743.60 763.25,761.17 767.79,640.09 772.33,693.63 776.87,676.77 781.41,681.76 785.95,568.99"/>
<g fill="#6495ed"><circle cx="463.68" cy="724.25" r="3.4"/><circle cx="468.22" cy="657.78" r="3.4"/><circle cx="472.76" cy="669.77" r="3.4"/><circle cx="477.30" cy="757.49" r="3.4"/><circle cx="481.84" cy="782.41" r="3.4"/><circle cx="486.37" cy="722.00" r="3.4"/><circle cx="490.91" cy="712.26" r="3.4"/><circle cx="495.45" cy="659.09" r="3.4"/><circle cx="499.99" cy="642.35" r="3.4"/><circle cx="504.53" cy="703.00" r="3.4"/><circle cx="509.07" cy="706.45" r="3.4"/><circle cx="513.61" cy="652.08" r="3.4"/><circle cx="518.15" cy="831.32" r="3.4"/><circle cx="522.69" cy="718.20" r="3.4"/><circle cx="527.23" cy="643.77" r="3.4"/><circle cx="531.76" cy="674.52" r="3.4"/><circle cx="536.30" cy="681.76" r="3.4"/><circle cx="540.84" cy="733.98" r="3.4"/><circle cx="545.38" cy="805.09" r="3.4"/><circle cx="549.92" cy="714.76" r="3.4"/><circle cx="554.46" cy="771.73" r="3.4"/><circle cx="559.00" cy="744.67" r="3.4"/><circle cx="563.54" cy="605.67" r="3.4"/><circle cx="568.08" cy="729.24" r="3.4"/><circle cx="572.62" cy="725.44" r="3.4"/><circle cx="577.15" cy="657.78" r="3.4"/><circle cx="581.69" cy="690.54" r="3.4"/><circle cx="586.23" cy="736.36" r="3.4"/><circle cx="590.77" cy="644.84" r="3.4"/><circle cx="595.31" cy="738.85" r="3.4"/><circle cx="599.85" cy="666.33" r="3.4"/><circle cx="604.39" cy="661.34" r="3.4"/><circle cx="608.93" cy="731.49" r="3.4"/><circle cx="613.47" cy="634.16" r="3.4"/><circle cx="618.00" cy="794.40" r="3.4"/><circle cx="622.54" cy="784.91" r="3.4"/><circle cx="627.08" cy="676.77" r="3.4"/><circle cx="631.62" cy="609.11" r="3.4"/><circle cx="636.16" cy="680.57" r="3.4"/><circle cx="640.70" cy="720.93" r="3.4"/><circle cx="645.24" cy="682.83" r="3.4"/><circle cx="649.78" cy="733.98" r="3.4"/><circle cx="654.32" cy="827.76" r="3.4"/><circle cx="658.86" cy="679.26" r="3.4"/><circle cx="663.39" cy="682.83" r="3.4"/><circle cx="667.93" cy="722.95" r="3.4"/><circle cx="672.47" cy="825.26" r="3.4"/><circle cx="677.01" cy="668.58" r="3.4"/><circle cx="681.55" cy="697.19" r="3.4"/><circle cx="686.09" cy="784.91" r="3.4"/><circle cx="690.63" cy="727.93" r="3.4"/><circle cx="695.17" cy="791.91" r="3.4"/><circle cx="699.71" cy="781.11" r="3.4"/><circle cx="704.25" cy="700.27" r="3.4"/><circle cx="708.79" cy="701.94" r="3.4"/><circle cx="713.32" cy="703.00" r="3.4"/><circle cx="717.86" cy="640.09" r="3.4"/><circle cx="722.40" cy="737.43" r="3.4"/><circle cx="726.94" cy="809.83" r="3.4"/><circle cx="731.48" cy="670.84" r="3.4"/><circle cx="736.02" cy="736.36" r="3.4"/><circle cx="740.56" cy="718.20" r="3.4"/><circle cx="745.10" cy="632.85" r="3.4"/><circle cx="749.64" cy="669.77" r="3.4"/><circle cx="754.17" cy="691.49" r="3.4"/><circle cx="758.71" cy="743.60" r="3.4"/><circle cx="763.25" cy="761.17" r="3.4"/><circle cx="767.79" cy="640.09" r="3.4"/><circle cx="772.33" cy="693.63" r="3.4"/><circle cx="776.87" cy="676.77" r="3.4"/><circle cx="781.41" cy="681.76" r="3.4"/><circle cx="785.95" cy="568.99" r="3.4"/></g>
<polygon fill="#000" fill-opacity="0.25" points="463.68,686.46 469.14,686.97 474.60,687.46 480.07,687.96 485.53,688.44 490.99,688.92 496.45,689.38 501.91,689.84 507.38,690.29 512.84,690.73 518.30,691.16 523.76,691.57 529.23,691.97 534.69,692.35 540.15,692.72 545.61,693.07 551.07,693.40 556.54,693.70 562.00,693.99 567.46,694.24 572.92,694.48 578.38,694.68 583.85,694.85 589.31,694.98 594.77,695.08 600.23,695.14 605.70,695.16 611.16,695.14 616.62,695.07 622.08,694.97 627.54,694.81 633.01,694.62 638.47,694.38 643.93,694.10 649.39,693.77 654.86,693.41 660.32,693.00 665.78,692.57 671.24,692.09 676.70,691.59 682.17,691.05 687.63,690.49 693.09,689.90 698.55,689.29 704.02,688.66 709.48,688.01 714.94,687.34 720.40,686.65 725.86,685.95 731.33,685.23 736.79,684.50 742.25,683.76 747.71,683.00 753.17,682.24 758.64,681.47 764.10,680.69 769.56,679.90 775.02,679.11 780.49,678.30 785.95,677.50 785.95,729.70 780.49,729.20 775.02,728.70 769.56,728.21 764.10,727.73 758.64,727.25 753.17,726.78 747.71,726.32 742.25,725.88 736.79,725.44 731.33,725.01 725.86,724.60 720.40,724.20 714.94,723.82 709.48,723.45 704.02,723.10 698.55,722.77 693.09,722.46 687.63,722.18 682.17,721.92 676.70,721.69 671.24,721.49 665.78,721.32 660.32,721.19 654.86,721.09 649.39,721.03 643.93,721.01 638.47,721.03 633.01,721.09 627.54,721.20 622.08,721.35 616.62,721.55 611.16,721.79 605.70,722.07 600.23,722.40 594.77,722.76 589.31,723.16 583.85,723.60 578.38,724.07 572.92,724.58 567.46,725.11 562.00,725.68 556.54,726.26 551.07,726.87 545.61,727.51 540.15,728.16 534.69,728.83 529.23,729.52 523.76,730.22 518.30,730.94 512.84,731.67 507.38,732.41 501.91,733.16 496.45,733.93 490.99,734.70 485.53,735.48 480.07,736.27 474.60,737.06 469.14,737.86 463.68,738.67"/>
<line x1="463.68" y1="712.57" x2="785.95" y2="703.60" stroke="#1e8cf8" stroke-width="1.1"/>
</g>
<text x="447.40" y="515.10" font-size="12.42" fill="#000">tx=0.011[rok]-21 R<tspan dx="0.6" dy="-6.5" font-size="9.2">2</tspan><tspan dx="0.1" dy="6.5">=0.0023</tspan></text>
<rect x="441.50" y="481.30" width="367.00" height="17.20" fill="none" stroke="#333" stroke-width="1"/>
<text x="623.10" y="495.25" font-size="13.9" text-anchor="middle" fill="#000">11934</text>
<rect x="441.50" y="498.50" width="367.00" height="388.80" fill="none" stroke="#333" stroke-width="1"/>
<clipPath id="cp6"><rect x="808.50" y="498.50" width="367.00" height="388.80"/></clipPath>
<g clip-path="url(#cp6)">
<line x1="871.76" y1="498.50" x2="871.76" y2="887.30" stroke="#ebebeb" stroke-width="1"/>
<line x1="962.54" y1="498.50" x2="962.54" y2="887.30" stroke="#ebebeb" stroke-width="1"/>
<line x1="1053.32" y1="498.50" x2="1053.32" y2="887.30" stroke="#ebebeb" stroke-width="1"/>
<line x1="1144.10" y1="498.50" x2="1144.10" y2="887.30" stroke="#ebebeb" stroke-width="1"/>
<line x1="808.50" y1="831.20" x2="1175.50" y2="831.20" stroke="#ebebeb" stroke-width="1"/>
<line x1="808.50" y1="771.85" x2="1175.50" y2="771.85" stroke="#ebebeb" stroke-width="1"/>
<line x1="808.50" y1="712.50" x2="1175.50" y2="712.50" stroke="#ebebeb" stroke-width="1"/>
<line x1="808.50" y1="653.15" x2="1175.50" y2="653.15" stroke="#ebebeb" stroke-width="1"/>
<line x1="808.50" y1="593.80" x2="1175.50" y2="593.80" stroke="#ebebeb" stroke-width="1"/>
<line x1="808.50" y1="534.45" x2="1175.50" y2="534.45" stroke="#ebebeb" stroke-width="1"/>
<polyline fill="none" stroke="#6495ed" stroke-width="0.9" points="830.91,719.50 835.45,690.54 839.99,650.78 844.53,737.43 849.06,724.25 853.60,704.07 858.14,711.19 862.68,680.57 867.22,663.83 871.76,657.78 876.30,697.19 880.84,682.59 885.38,765.91 889.92,742.17 894.46,737.43 898.99,722.00 903.53,715.82 908.07,715.82 912.61,768.17 917.15,706.45 921.69,713.69 926.23,671.07 930.77,629.41 935.31,688.76 939.85,752.74 944.38,733.75 948.92,754.16 953.46,674.52 958.00,643.77 962.54,705.02 967.08,710.01 971.62,674.52 976.16,701.70 980.70,674.52 985.24,752.74 989.77,727.93 994.31,649.59 998.85,665.02 1003.39,699.32 1007.93,725.68 1012.47,688.76 1017.01,705.02 1021.55,783.84 1026.09,686.50 1030.62,700.16 1035.16,695.64 1039.70,787.16 1044.24,687.57 1048.78,794.40 1053.32,715.82 1057.86,703.00 1062.40,745.50 1066.94,757.49 1071.48,650.78 1076.01,698.26 1080.55,685.32 1085.09,714.76 1089.63,715.82 1094.17,783.84 1098.71,630.36 1103.25,758.67 1107.79,710.01 1112.33,747.99 1116.87,678.20 1121.40,752.74 1125.94,745.50 1130.48,757.49 1135.02,668.58 1139.56,674.52 1144.10,629.41 1148.64,654.34 1153.18,663.83"/>
<g fill="#6495ed"><circle cx="830.91" cy="719.50" r="3.4"/><circle cx="835.45" cy="690.54" r="3.4"/><circle cx="839.99" cy="650.78" r="3.4"/><circle cx="844.53" cy="737.43" r="3.4"/><circle cx="849.06" cy="724.25" r="3.4"/><circle cx="853.60" cy="704.07" r="3.4"/><circle cx="858.14" cy="711.19" r="3.4"/><circle cx="862.68" cy="680.57" r="3.4"/><circle cx="867.22" cy="663.83" r="3.4"/><circle cx="871.76" cy="657.78" r="3.4"/><circle cx="876.30" cy="697.19" r="3.4"/><circle cx="880.84" cy="682.59" r="3.4"/><circle cx="885.38" cy="765.91" r="3.4"/><circle cx="889.92" cy="742.17" r="3.4"/><circle cx="894.46" cy="737.43" r="3.4"/><circle cx="898.99" cy="722.00" r="3.4"/><circle cx="903.53" cy="715.82" r="3.4"/><circle cx="908.07" cy="715.82" r="3.4"/><circle cx="912.61" cy="768.17" r="3.4"/><circle cx="917.15" cy="706.45" r="3.4"/><circle cx="921.69" cy="713.69" r="3.4"/><circle cx="926.23" cy="671.07" r="3.4"/><circle cx="930.77" cy="629.41" r="3.4"/><circle cx="935.31" cy="688.76" r="3.4"/><circle cx="939.85" cy="752.74" r="3.4"/><circle cx="944.38" cy="733.75" r="3.4"/><circle cx="948.92" cy="754.16" r="3.4"/><circle cx="953.46" cy="674.52" r="3.4"/><circle cx="958.00" cy="643.77" r="3.4"/><circle cx="962.54" cy="705.02" r="3.4"/><circle cx="967.08" cy="710.01" r="3.4"/><circle cx="971.62" cy="674.52" r="3.4"/><circle cx="976.16" cy="701.70" r="3.4"/><circle cx="980.70" cy="674.52" r="3.4"/><circle cx="985.24" cy="752.74" r="3.4"/><circle cx="989.77" cy="727.93" r="3.4"/><circle cx="994.31" cy="649.59" r="3.4"/><circle cx="998.85" cy="665.02" r="3.4"/><circle cx="1003.39" cy="699.32" r="3.4"/><circle cx="1007.93" cy="725.68" r="3.4"/><circle cx="1012.47" cy="688.76" r="3.4"/><circle cx="1017.01" cy="705.02" r="3.4"/><circle cx="1021.55" cy="783.84" r="3.4"/><circle cx="1026.09" cy="686.50" r="3.4"/><circle cx="1030.62" cy="700.16" r="3.4"/><circle cx="1035.16" cy="695.64" r="3.4"/><circle cx="1039.70" cy="787.16" r="3.4"/><circle cx="1044.24" cy="687.57" r="3.4"/><circle cx="1048.78" cy="794.40" r="3.4"/><circle cx="1053.32" cy="715.82" r="3.4"/><circle cx="1057.86" cy="703.00" r="3.4"/><circle cx="1062.40" cy="745.50" r="3.4"/><circle cx="1066.94" cy="757.49" r="3.4"/><circle cx="1071.48" cy="650.78" r="3.4"/><circle cx="1076.01" cy="698.26" r="3.4"/><circle cx="1080.55" cy="685.32" r="3.4"/><circle cx="1085.09" cy="714.76" r="3.4"/><circle cx="1089.63" cy="715.82" r="3.4"/><circle cx="1094.17" cy="783.84" r="3.4"/><circle cx="1098.71" cy="630.36" r="3.4"/><circle cx="1103.25" cy="758.67" r="3.4"/><circle cx="1107.79" cy="710.01" r="3.4"/><circle cx="1112.33" cy="747.99" r="3.4"/><circle cx="1116.87" cy="678.20" r="3.4"/><circle cx="1121.40" cy="752.74" r="3.4"/><circle cx="1125.94" cy="745.50" r="3.4"/><circle cx="1130.48" cy="757.49" r="3.4"/><circle cx="1135.02" cy="668.58" r="3.4"/><circle cx="1139.56" cy="674.52" r="3.4"/><circle cx="1144.10" cy="629.41" r="3.4"/><circle cx="1148.64" cy="654.34" r="3.4"/><circle cx="1153.18" cy="663.83" r="3.4"/></g>
<polygon fill="#000" fill-opacity="0.25" points="830.91,687.57 836.37,688.07 841.83,688.56 847.30,689.05 852.76,689.53 858.22,690.01 863.68,690.48 869.14,690.95 874.61,691.41 880.07,691.86 885.53,692.30 890.99,692.73 896.46,693.16 901.92,693.57 907.38,693.97 912.84,694.36 918.30,694.73 923.77,695.09 929.23,695.43 934.69,695.75 940.15,696.05 945.61,696.33 951.08,696.59 956.54,696.82 962.00,697.03 967.46,697.21 972.93,697.36 978.39,697.48 983.85,697.57 989.31,697.63 994.77,697.66 1000.24,697.65 1005.70,697.62 1011.16,697.55 1016.62,697.45 1022.09,697.33 1027.55,697.18 1033.01,697.00 1038.47,696.79 1043.93,696.57 1049.40,696.32 1054.86,696.05 1060.32,695.77 1065.78,695.46 1071.25,695.15 1076.71,694.81 1082.17,694.47 1087.63,694.11 1093.09,693.74 1098.56,693.36 1104.02,692.98 1109.48,692.58 1114.94,692.17 1120.40,691.76 1125.87,691.35 1131.33,690.92 1136.79,690.49 1142.25,690.06 1147.72,689.62 1153.18,689.17 1153.18,726.67 1147.72,726.18 1142.25,725.68 1136.79,725.19 1131.33,724.71 1125.87,724.23 1120.40,723.76 1114.94,723.29 1109.48,722.83 1104.02,722.38 1098.56,721.94 1093.09,721.51 1087.63,721.08 1082.17,720.67 1076.71,720.27 1071.25,719.88 1065.78,719.51 1060.32,719.16 1054.86,718.81 1049.40,718.49 1043.93,718.19 1038.47,717.91 1033.01,717.65 1027.55,717.42 1022.09,717.21 1016.62,717.03 1011.16,716.88 1005.70,716.76 1000.24,716.67 994.77,716.61 989.31,716.58 983.85,716.59 978.39,716.62 972.93,716.69 967.46,716.79 962.00,716.91 956.54,717.07 951.08,717.24 945.61,717.45 940.15,717.67 934.69,717.92 929.23,718.19 923.77,718.47 918.30,718.78 912.84,719.10 907.38,719.43 901.92,719.77 896.46,720.13 890.99,720.50 885.53,720.88 880.07,721.27 874.61,721.66 869.14,722.07 863.68,722.48 858.22,722.90 852.76,723.32 847.30,723.75 841.83,724.18 836.37,724.62 830.91,725.07"/>
<line x1="830.91" y1="706.32" x2="1153.18" y2="707.92" stroke="#1e8cf8" stroke-width="1.1"/>
</g>
<text x="814.40" y="515.10" font-size="12.42" fill="#000">tx=-0.002[rok]+4.4 R<tspan dx="0.6" dy="-6.5" font-size="9.2">2</tspan><tspan dx="0.1" dy="6.5">=0.00015</tspan></text>
<rect x="808.50" y="481.30" width="367.00" height="17.20" fill="none" stroke="#333" stroke-width="1"/>
<text x="990.10" y="495.25" font-size="13.9" text-anchor="middle" fill="#000">11968</text>
<rect x="808.50" y="498.50" width="367.00" height="388.80" fill="none" stroke="#333" stroke-width="1"/>
<clipPath id="cp7"><rect x="1175.50" y="498.50" width="367.50" height="388.80"/></clipPath>
<g clip-path="url(#cp7)">
<line x1="1238.99" y1="498.50" x2="1238.99" y2="887.30" stroke="#ebebeb" stroke-width="1"/>
<line x1="1329.77" y1="498.50" x2="1329.77" y2="887.30" stroke="#ebebeb" stroke-width="1"/>
<line x1="1420.55" y1="498.50" x2="1420.55" y2="887.30" stroke="#ebebeb" stroke-width="1"/>
<line x1="1511.33" y1="498.50" x2="1511.33" y2="887.30" stroke="#ebebeb" stroke-width="1"/>
<line x1="1175.50" y1="831.20" x2="1543.00" y2="831.20" stroke="#ebebeb" stroke-width="1"/>
<line x1="1175.50" y1="771.85" x2="1543.00" y2="771.85" stroke="#ebebeb" stroke-width="1"/>
<line x1="1175.50" y1="712.50" x2="1543.00" y2="712.50" stroke="#ebebeb" stroke-width="1"/>
<line x1="1175.50" y1="653.15" x2="1543.00" y2="653.15" stroke="#ebebeb" stroke-width="1"/>
<line x1="1175.50" y1="593.80" x2="1543.00" y2="593.80" stroke="#ebebeb" stroke-width="1"/>
<line x1="1175.50" y1="534.45" x2="1543.00" y2="534.45" stroke="#ebebeb" stroke-width="1"/>
<polyline fill="none" stroke="#6495ed" stroke-width="0.9" points="1198.14,699.44 1202.68,657.78 1207.22,581.69 1211.76,726.74 1216.30,717.25 1220.83,686.50 1225.37,678.20 1229.91,678.20 1234.45,647.33 1238.99,646.03 1243.53,680.57 1248.07,637.60 1252.61,758.67 1257.15,711.08 1261.68,678.20 1266.22,707.99 1270.76,706.45 1275.30,698.26 1279.84,757.49 1284.38,686.50 1288.92,718.20 1293.46,672.02 1298.00,632.85 1302.54,675.82 1307.08,736.36 1311.61,717.25 1316.15,695.64 1320.69,703.00 1325.23,605.67 1329.77,717.25 1334.31,694.70 1338.85,648.40 1343.39,693.51 1347.93,669.77 1352.46,757.49 1357.00,739.44 1361.54,669.77 1366.08,630.60 1370.62,671.07 1375.16,729.24 1379.70,673.33 1384.24,717.25 1388.78,772.92 1393.32,674.52 1397.86,687.57 1402.39,698.26 1406.93,814.58 1411.47,622.17 1416.01,731.25 1420.55,733.75 1425.09,701.70 1429.63,744.67 1434.17,738.73 1438.71,669.77 1443.24,692.44 1447.78,644.84 1452.32,672.02 1456.86,731.25 1461.40,786.09 1465.94,649.59 1470.48,763.42 1475.02,696.95 1479.56,667.28 1484.10,669.77 1488.63,759.86 1493.17,754.16 1497.71,746.92 1502.25,648.40 1506.79,666.33 1511.33,650.78 1515.87,647.33 1520.41,659.09"/>
<g fill="#6495ed"><circle cx="1198.14" cy="699.44" r="3.4"/><circle cx="1202.68" cy="657.78" r="3.4"/><circle cx="1207.22" cy="581.69" r="3.4"/><circle cx="1211.76" cy="726.74" r="3.4"/><circle cx="1216.30" cy="717.25" r="3.4"/><circle cx="1220.83" cy="686.50" r="3.4"/><circle cx="1225.37" cy="678.20" r="3.4"/><circle cx="1229.91" cy="678.20" r="3.4"/><circle cx="1234.45" cy="647.33" r="3.4"/><circle cx="1238.99" cy="646.03" r="3.4"/><circle cx="1243.53" cy="680.57" r="3.4"/><circle cx="1248.07" cy="637.60" r="3.4"/><circle cx="1252.61" cy="758.67" r="3.4"/><circle cx="1257.15" cy="711.08" r="3.4"/><circle cx="1261.68" cy="678.20" r="3.4"/><circle cx="1266.22" cy="707.99" r="3.4"/><circle cx="1270.76" cy="706.45" r="3.4"/><circle cx="1275.30" cy="698.26" r="3.4"/><circle cx="1279.84" cy="757.49" r="3.4"/><circle cx="1284.38" cy="686.50" r="3.4"/><circle cx="1288.92" cy="718.20" r="3.4"/><circle cx="1293.46" cy="672.02" r="3.4"/><circle cx="1298.00" cy="632.85" r="3.4"/><circle cx="1302.54" cy="675.82" r="3.4"/><circle cx="1307.08" cy="736.36" r="3.4"/><circle cx="1311.61" cy="717.25" r="3.4"/><circle cx="1316.15" cy="695.64" r="3.4"/><circle cx="1320.69" cy="703.00" r="3.4"/><circle cx="1325.23" cy="605.67" r="3.4"/><circle cx="1329.77" cy="717.25" r="3.4"/><circle cx="1334.31" cy="694.70" r="3.4"/><circle cx="1338.85" cy="648.40" r="3.4"/><circle cx="1343.39" cy="693.51" r="3.4"/><circle cx="1347.93" cy="669.77" r="3.4"/><circle cx="1352.46" cy="757.49" r="3.4"/><circle cx="1357.00" cy="739.44" r="3.4"/><circle cx="1361.54" cy="669.77" r="3.4"/><circle cx="1366.08" cy="630.60" r="3.4"/><circle cx="1370.62" cy="671.07" r="3.4"/><circle cx="1375.16" cy="729.24" r="3.4"/><circle cx="1379.70" cy="673.33" r="3.4"/><circle cx="1384.24" cy="717.25" r="3.4"/><circle cx="1388.78" cy="772.92" r="3.4"/><circle cx="1393.32" cy="674.52" r="3.4"/><circle cx="1397.86" cy="687.57" r="3.4"/><circle cx="1402.39" cy="698.26" r="3.4"/><circle cx="1406.93" cy="814.58" r="3.4"/><circle cx="1411.47" cy="622.17" r="3.4"/><circle cx="1416.01" cy="731.25" r="3.4"/><circle cx="1420.55" cy="733.75" r="3.4"/><circle cx="1425.09" cy="701.70" r="3.4"/><circle cx="1429.63" cy="744.67" r="3.4"/><circle cx="1434.17" cy="738.73" r="3.4"/><circle cx="1438.71" cy="669.77" r="3.4"/><circle cx="1443.24" cy="692.44" r="3.4"/><circle cx="1447.78" cy="644.84" r="3.4"/><circle cx="1452.32" cy="672.02" r="3.4"/><circle cx="1456.86" cy="731.25" r="3.4"/><circle cx="1461.40" cy="786.09" r="3.4"/><circle cx="1465.94" cy="649.59" r="3.4"/><circle cx="1470.48" cy="763.42" r="3.4"/><circle cx="1475.02" cy="696.95" r="3.4"/><circle cx="1479.56" cy="667.28" r="3.4"/><circle cx="1484.10" cy="669.77" r="3.4"/><circle cx="1488.63" cy="759.86" r="3.4"/><circle cx="1493.17" cy="754.16" r="3.4"/><circle cx="1497.71" cy="746.92" r="3.4"/><circle cx="1502.25" cy="648.40" r="3.4"/><circle cx="1506.79" cy="666.33" r="3.4"/><circle cx="1511.33" cy="650.78" r="3.4"/><circle cx="1515.87" cy="647.33" r="3.4"/><circle cx="1520.41" cy="659.09" r="3.4"/></g>
<polygon fill="#000" fill-opacity="0.25" points="1198.14,664.20 1203.60,665.05 1209.06,665.89 1214.53,666.73 1219.99,667.56 1225.45,668.39 1230.91,669.21 1236.37,670.02 1241.84,670.83 1247.30,671.62 1252.76,672.41 1258.22,673.18 1263.69,673.95 1269.15,674.70 1274.61,675.44 1280.07,676.17 1285.53,676.88 1291.00,677.57 1296.46,678.24 1301.92,678.90 1307.38,679.53 1312.84,680.14 1318.31,680.72 1323.77,681.28 1329.23,681.81 1334.69,682.31 1340.16,682.77 1345.62,683.21 1351.08,683.61 1356.54,683.97 1362.00,684.30 1367.47,684.60 1372.93,684.86 1378.39,685.09 1383.85,685.28 1389.32,685.44 1394.78,685.58 1400.24,685.68 1405.70,685.76 1411.16,685.81 1416.63,685.84 1422.09,685.85 1427.55,685.83 1433.01,685.80 1438.48,685.75 1443.94,685.69 1449.40,685.61 1454.86,685.52 1460.32,685.41 1465.79,685.30 1471.25,685.17 1476.71,685.04 1482.17,684.90 1487.63,684.75 1493.10,684.59 1498.56,684.42 1504.02,684.25 1509.48,684.07 1514.95,683.89 1520.41,683.71 1520.41,724.88 1514.95,724.03 1509.48,723.19 1504.02,722.35 1498.56,721.52 1493.10,720.69 1487.63,719.87 1482.17,719.06 1476.71,718.26 1471.25,717.46 1465.79,716.67 1460.32,715.90 1454.86,715.13 1449.40,714.38 1443.94,713.64 1438.48,712.92 1433.01,712.21 1427.55,711.51 1422.09,710.84 1416.63,710.18 1411.16,709.55 1405.70,708.94 1400.24,708.36 1394.78,707.80 1389.32,707.28 1383.85,706.78 1378.39,706.31 1372.93,705.88 1367.47,705.48 1362.00,705.11 1356.54,704.78 1351.08,704.49 1345.62,704.22 1340.16,704.00 1334.69,703.80 1329.23,703.64 1323.77,703.51 1318.31,703.40 1312.84,703.32 1307.38,703.27 1301.92,703.24 1296.46,703.24 1291.00,703.25 1285.53,703.28 1280.07,703.33 1274.61,703.39 1269.15,703.47 1263.69,703.56 1258.22,703.67 1252.76,703.78 1247.30,703.91 1241.84,704.04 1236.37,704.19 1230.91,704.34 1225.45,704.50 1219.99,704.66 1214.53,704.83 1209.06,705.01 1203.60,705.19 1198.14,705.38"/>
<line x1="1198.14" y1="684.79" x2="1520.41" y2="704.29" stroke="#1e8cf8" stroke-width="1.1"/>
</g>
<text x="1181.40" y="515.10" font-size="12.42" fill="#000">tx=-0.023[rok]+47 R<tspan dx="0.6" dy="-6.5" font-size="9.2">2</tspan><tspan dx="0.1" dy="6.5">=0.017</tspan></text>
<rect x="1175.50" y="481.30" width="367.50" height="17.20" fill="none" stroke="#333" stroke-width="1"/>
<text x="1357.35" y="495.25" font-size="13.9" text-anchor="middle" fill="#000">11993</text>
<rect x="1175.50" y="498.50" width="367.50" height="388.80" fill="none" stroke="#333" stroke-width="1"/>
<line x1="137.30" y1="69.70" x2="137.30" y2="76.20" stroke="#333" stroke-width="1"/>
<line x1="137.30" y1="887.30" x2="137.30" y2="893.80" stroke="#333" stroke-width="1"/>
<text transform="translate(137.30,910.3) scale(1,1.13)" font-size="13.7" text-anchor="middle" fill="#000">1960</text>
<line x1="228.08" y1="69.70" x2="228.08" y2="76.20" stroke="#333" stroke-width="1"/>
<line x1="228.08" y1="887.30" x2="228.08" y2="893.80" stroke="#333" stroke-width="1"/>
<text transform="translate(228.08,910.3) scale(1,1.13)" font-size="13.7" text-anchor="middle" fill="#000">1980</text>
<line x1="318.86" y1="69.70" x2="318.86" y2="76.20" stroke="#333" stroke-width="1"/>
<line x1="318.86" y1="887.30" x2="318.86" y2="893.80" stroke="#333" stroke-width="1"/>
<text transform="translate(318.86,910.3) scale(1,1.13)" font-size="13.7" text-anchor="middle" fill="#000">2000</text>
<line x1="409.64" y1="69.70" x2="409.64" y2="76.20" stroke="#333" stroke-width="1"/>
<line x1="409.64" y1="887.30" x2="409.64" y2="893.80" stroke="#333" stroke-width="1"/>
<text transform="translate(409.64,910.3) scale(1,1.13)" font-size="13.7" text-anchor="middle" fill="#000">2020</text>
<line x1="504.53" y1="69.70" x2="504.53" y2="76.20" stroke="#333" stroke-width="1"/>
<line x1="504.53" y1="887.30" x2="504.53" y2="893.80" stroke="#333" stroke-width="1"/>
<text transform="translate(504.53,63.7) scale(1,1.13)" font-size="13.7" text-anchor="middle" fill="#000">1960</text>
<line x1="595.31" y1="69.70" x2="595.31" y2="76.20" stroke="#333" stroke-width="1"/>
<line x1="595.31" y1="887.30" x2="595.31" y2="893.80" stroke="#333" stroke-width="1"/>
<text transform="translate(595.31,63.7) scale(1,1.13)" font-size="13.7" text-anchor="middle" fill="#000">1980</text>
<line x1="686.09" y1="69.70" x2="686.09" y2="76.20" stroke="#333" stroke-width="1"/>
<line x1="686.09" y1="887.30" x2="686.09" y2="893.80" stroke="#333" stroke-width="1"/>
<text transform="translate(686.09,63.7) scale(1,1.13)" font-size="13.7" text-anchor="middle" fill="#000">2000</text>
<line x1="776.87" y1="69.70" x2="776.87" y2="76.20" stroke="#333" stroke-width="1"/>
<line x1="776.87" y1="887.30" x2="776.87" y2="893.80" stroke="#333" stroke-width="1"/>
<text transform="translate(776.87,63.7) scale(1,1.13)" font-size="13.7" text-anchor="middle" fill="#000">2020</text>
<line x1="871.76" y1="69.70" x2="871.76" y2="76.20" stroke="#333" stroke-width="1"/>
<line x1="871.76" y1="887.30" x2="871.76" y2="893.80" stroke="#333" stroke-width="1"/>
<text transform="translate(871.76,910.3) scale(1,1.13)" font-size="13.7" text-anchor="middle" fill="#000">1960</text>
<line x1="962.54" y1="69.70" x2="962.54" y2="76.20" stroke="#333" stroke-width="1"/>
<line x1="962.54" y1="887.30" x2="962.54" y2="893.80" stroke="#333" stroke-width="1"/>
<text transform="translate(962.54,910.3) scale(1,1.13)" font-size="13.7" text-anchor="middle" fill="#000">1980</text>
<line x1="1053.32" y1="69.70" x2="1053.32" y2="76.20" stroke="#333" stroke-width="1"/>
<line x1="1053.32" y1="887.30" x2="1053.32" y2="893.80" stroke="#333" stroke-width="1"/>
<text transform="translate(1053.32,910.3) scale(1,1.13)" font-size="13.7" text-anchor="middle" fill="#000">2000</text>
<line x1="1144.10" y1="69.70" x2="1144.10" y2="76.20" stroke="#333" stroke-width="1"/>
<line x1="1144.10" y1="887.30" x2="1144.10" y2="893.80" stroke="#333" stroke-width="1"/>
<text transform="translate(1144.10,910.3) scale(1,1.13)" font-size="13.7" text-anchor="middle" fill="#000">2020</text>
<line x1="1238.99" y1="69.70" x2="1238.99" y2="76.20" stroke="#333" stroke-width="1"/>
<line x1="1238.99" y1="887.30" x2="1238.99" y2="893.80" stroke="#333" stroke-width="1"/>
<text transform="translate(1238.99,63.7) scale(1,1.13)" font-size="13.7" text-anchor="middle" fill="#000">1960</text>
<line x1="1329.77" y1="69.70" x2="1329.77" y2="76.20" stroke="#333" stroke-width="1"/>
<line x1="1329.77" y1="887.30" x2="1329.77" y2="893.80" stroke="#333" stroke-width="1"/>
<text transform="translate(1329.77,63.7) scale(1,1.13)" font-size="13.7" text-anchor="middle" fill="#000">1980</text>
<line x1="1420.55" y1="69.70" x2="1420.55" y2="76.20" stroke="#333" stroke-width="1"/>
<line x1="1420.55" y1="887.30" x2="1420.55" y2="893.80" stroke="#333" stroke-width="1"/>
<text transform="translate(1420.55,63.7) scale(1,1.13)" font-size="13.7" text-anchor="middle" fill="#000">2000</text>
<line x1="1511.33" y1="69.70" x2="1511.33" y2="76.20" stroke="#333" stroke-width="1"/>
<line x1="1511.33" y1="887.30" x2="1511.33" y2="893.80" stroke="#333" stroke-width="1"/>
<text transform="translate(1511.33,63.7) scale(1,1.13)" font-size="13.7" text-anchor="middle" fill="#000">2020</text>
<line x1="67.00" y1="425.70" x2="73.50" y2="425.70" stroke="#333" stroke-width="1"/>
<line x1="1543.00" y1="425.70" x2="1549.50" y2="425.70" stroke="#333" stroke-width="1"/>
<text transform="translate(61,431.20) scale(1,1.13)" font-size="13.7" text-anchor="end" fill="#000">-10</text>
<line x1="67.00" y1="366.35" x2="73.50" y2="366.35" stroke="#333" stroke-width="1"/>
<line x1="1543.00" y1="366.35" x2="1549.50" y2="366.35" stroke="#333" stroke-width="1"/>
<text transform="translate(61,371.85) scale(1,1.13)" font-size="13.7" text-anchor="end" fill="#000">-5</text>
<line x1="67.00" y1="307.00" x2="73.50" y2="307.00" stroke="#333" stroke-width="1"/>
<line x1="1543.00" y1="307.00" x2="1549.50" y2="307.00" stroke="#333" stroke-width="1"/>
<text transform="translate(61,312.50) scale(1,1.13)" font-size="13.7" text-anchor="end" fill="#000">0</text>
<line x1="67.00" y1="247.65" x2="73.50" y2="247.65" stroke="#333" stroke-width="1"/>
<line x1="1543.00" y1="247.65" x2="1549.50" y2="247.65" stroke="#333" stroke-width="1"/>
<text transform="translate(61,253.15) scale(1,1.13)" font-size="13.7" text-anchor="end" fill="#000">5</text>
<line x1="67.00" y1="188.30" x2="73.50" y2="188.30" stroke="#333" stroke-width="1"/>
<line x1="1543.00" y1="188.30" x2="1549.50" y2="188.30" stroke="#333" stroke-width="1"/>
<text transform="translate(61,193.80) scale(1,1.13)" font-size="13.7" text-anchor="end" fill="#000">10</text>
<line x1="67.00" y1="128.95" x2="73.50" y2="128.95" stroke="#333" stroke-width="1"/>
<line x1="1543.00" y1="128.95" x2="1549.50" y2="128.95" stroke="#333" stroke-width="1"/>
<text transform="translate(61,134.45) scale(1,1.13)" font-size="13.7" text-anchor="end" fill="#000">15</text>
<line x1="67.00" y1="831.20" x2="73.50" y2="831.20" stroke="#333" stroke-width="1"/>
<line x1="1543.00" y1="831.20" x2="1549.50" y2="831.20" stroke="#333" stroke-width="1"/>
<text transform="translate(1555.6,836.70) scale(1,1.13)" font-size="13.7" fill="#000">-10</text>
<line x1="67.00" y1="771.85" x2="73.50" y2="771.85" stroke="#333" stroke-width="1"/>
<line x1="1543.00" y1="771.85" x2="1549.50" y2="771.85" stroke="#333" stroke-width="1"/>
<text transform="translate(1555.6,777.35) scale(1,1.13)" font-size="13.7" fill="#000">-5</text>
<line x1="67.00" y1="712.50" x2="73.50" y2="712.50" stroke="#333" stroke-width="1"/>
<line x1="1543.00" y1="712.50" x2="1549.50" y2="712.50" stroke="#333" stroke-width="1"/>
<text transform="translate(1555.6,718.00) scale(1,1.13)" font-size="13.7" fill="#000">0</text>
<line x1="67.00" y1="653.15" x2="73.50" y2="653.15" stroke="#333" stroke-width="1"/>
<line x1="1543.00" y1="653.15" x2="1549.50" y2="653.15" stroke="#333" stroke-width="1"/>
<text transform="translate(1555.6,658.65) scale(1,1.13)" font-size="13.7" fill="#000">5</text>
<line x1="67.00" y1="593.80" x2="73.50" y2="593.80" stroke="#333" stroke-width="1"/>
<line x1="1543.00" y1="593.80" x2="1549.50" y2="593.80" stroke="#333" stroke-width="1"/>
<text transform="translate(1555.6,599.30) scale(1,1.13)" font-size="13.7" fill="#000">10</text>
<line x1="67.00" y1="534.45" x2="73.50" y2="534.45" stroke="#333" stroke-width="1"/>
<line x1="1543.00" y1="534.45" x2="1549.50" y2="534.45" stroke="#333" stroke-width="1"/>
<text transform="translate(1555.6,539.95) scale(1,1.13)" font-size="13.7" fill="#000">15</text>
</svg></body></html>
